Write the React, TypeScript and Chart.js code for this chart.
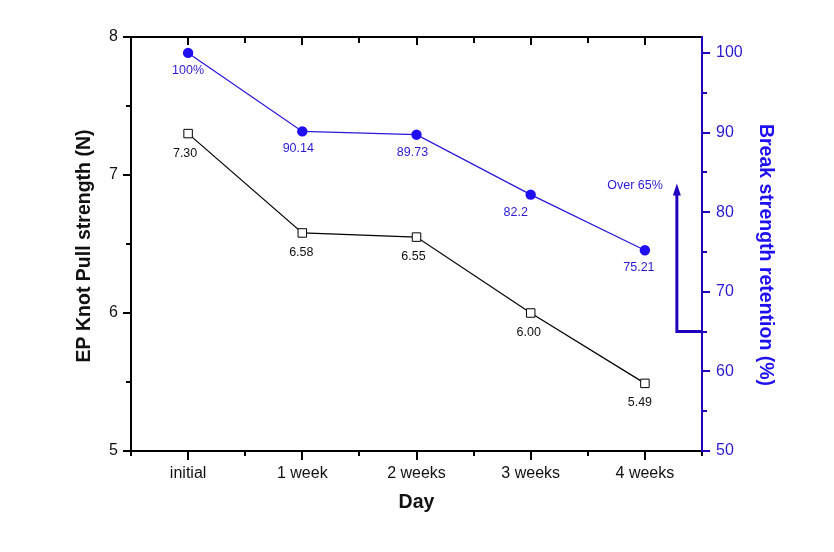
import React, { useEffect, useRef } from 'react';
import { Chart, registerables } from 'chart.js';

Chart.register(...registerables);

const categories = ['initial', '1 week', '2 weeks', '3 weeks', '4 weeks'];
const knotPull = [7.3, 6.58, 6.55, 6.0, 5.49];
const knotLabels = ['7.30', '6.58', '6.55', '6.00', '5.49'];
const retention = [100, 90.14, 89.73, 82.2, 75.21];
const retentionLabels = ['100%', '90.14', '89.73', '82.2', '75.21'];
const leftMin = 5;
const leftMax = 8;
const rightMin = 50;
const rightMax = 102;
const rightTickMax = 100;
const thresholdValue = 65;
const thresholdArrowTop = 83.6;
const thresholdText = 'Over 65%';
const xTitle = 'Day';
const leftTitle = 'EP Knot Pull strength (N)';
const rightTitle = 'Break strength retention (%)';

const FONT = '"Liberation Sans", Arial, Helvetica, sans-serif';
const BLACK = '#000000';
const BLUE_LINE = '#2a18d8';
const BLUE_POINT = '#1f0ff0';
const BLUE_TEXT = '#2b1ad0';
const BLUE_AXIS = '#2200c0';

// label offsets (style only)
const retentionDx = [0, -4, -4, -15, -6];
const knotDx = [-3, -1, -3, -2, -5];

const decorPlugin = {
  id: 'decor',
  afterDatasetsDraw(chart: any) {
    const { ctx, chartArea, scales } = chart;
    const { left, right, top, bottom } = chartArea;
    const xs = scales.x;
    const yl = scales.y;
    const yr = scales.y1;
    ctx.save();

    // data labels
    ctx.font = `12.5px ${FONT}`;
    ctx.textAlign = 'center';
    ctx.textBaseline = 'middle';
    ctx.fillStyle = BLUE_TEXT;
    retention.forEach((v, i) => {
      const px = xs.getPixelForValue(i) + retentionDx[i];
      const py = yr.getPixelForValue(v) + 17.5;
      ctx.fillText(retentionLabels[i], px, py);
    });
    ctx.fillStyle = '#111';
    knotPull.forEach((v, i) => {
      const px = xs.getPixelForValue(i) + knotDx[i];
      const py = yl.getPixelForValue(v) + 19.5;
      ctx.fillText(knotLabels[i], px, py);
    });

    // threshold arrow
    const ax = xs.getPixelForValue(4.28);
    const y65 = yr.getPixelForValue(thresholdValue);
    const yTop = yr.getPixelForValue(thresholdArrowTop);
    ctx.strokeStyle = BLUE_AXIS;
    ctx.fillStyle = BLUE_AXIS;
    ctx.lineWidth = 3;
    ctx.beginPath();
    ctx.moveTo(right, y65);
    ctx.lineTo(ax, y65);
    ctx.lineTo(ax, yTop + 10);
    ctx.stroke();
    ctx.beginPath();
    ctx.moveTo(ax, yTop);
    ctx.lineTo(ax - 4, yTop + 12);
    ctx.lineTo(ax + 4, yTop + 12);
    ctx.closePath();
    ctx.fill();
    ctx.font = `12.5px ${FONT}`;
    ctx.textAlign = 'right';
    ctx.fillStyle = BLUE_TEXT;
    ctx.fillText(thresholdText, ax - 14, yTop + 2.5);

    // axes
    ctx.lineCap = 'butt';
    ctx.strokeStyle = BLACK;
    ctx.lineWidth = 2;
    ctx.beginPath();
    ctx.moveTo(left, top);
    ctx.lineTo(right, top);
    ctx.moveTo(left, top - 1);
    ctx.lineTo(left, bottom + 1);
    ctx.moveTo(left - 1, bottom);
    ctx.lineTo(right + 1, bottom);
    ctx.stroke();

    // left ticks
    ctx.beginPath();
    for (let v = leftMin; v <= leftMax + 1e-9; v += 0.5) {
      const py = Math.round(yl.getPixelForValue(v));
      const major = Math.abs(v - Math.round(v)) < 1e-9;
      ctx.moveTo(left, py);
      ctx.lineTo(left - (major ? 8 : 5), py);
    }
    // bottom & top ticks
    for (let k = -0.5; k <= categories.length - 0.5 + 1e-9; k += 0.5) {
      const px = Math.round(xs.getPixelForValue(k));
      const major = Math.abs(k - Math.round(k)) < 1e-9;
      ctx.moveTo(px, bottom);
      ctx.lineTo(px, bottom + (major ? 9 : 5));
      ctx.moveTo(px, top);
      ctx.lineTo(px, top + (major ? 8 : 6));
    }
    ctx.stroke();

    // right axis
    ctx.strokeStyle = BLUE_AXIS;
    ctx.beginPath();
    ctx.moveTo(right, top - 1);
    ctx.lineTo(right, bottom + 1);
    for (let v = rightMin; v <= rightTickMax + 1e-9; v += 5) {
      const py = Math.round(yr.getPixelForValue(v));
      const major = v % 10 === 0;
      ctx.moveTo(right, py);
      ctx.lineTo(right + (major ? 8 : 5), py);
    }
    ctx.stroke();

    // axis titles
    ctx.font = `bold 19.5px ${FONT}`;
    ctx.textAlign = 'center';
    ctx.textBaseline = 'middle';
    ctx.fillStyle = '#111';
    ctx.fillText(xTitle, (left + right) / 2, 503);

    ctx.save();
    ctx.translate(85, 246);
    ctx.rotate(-Math.PI / 2);
    ctx.fillText(leftTitle, 0, 0);
    ctx.restore();

    ctx.save();
    ctx.translate(765, 255);
    ctx.rotate(Math.PI / 2);
    ctx.fillStyle = BLUE_POINT;
    ctx.fillText(rightTitle, 0, 0);
    ctx.restore();

    ctx.restore();
  },
};

export default function App() {
  const canvasRef = useRef<HTMLCanvasElement | null>(null);

  useEffect(() => {
    document.body.style.margin = '0';
    const canvas = canvasRef.current;
    if (!canvas) return;
    const chart = new Chart(canvas, {
      type: 'line',
      data: {
        labels: categories,
        datasets: [
          {
            label: 'EP Knot Pull strength',
            data: knotPull,
            yAxisID: 'y',
            borderColor: BLACK,
            borderWidth: 1.2,
            pointStyle: 'rect',
            pointRadius: 6,
            pointBorderWidth: 1,
            pointBackgroundColor: '#ffffff',
            pointBorderColor: BLACK,
            tension: 0,
          },
          {
            label: 'Break strength retention',
            data: retention,
            yAxisID: 'y1',
            borderColor: BLUE_LINE,
            borderWidth: 1.3,
            pointStyle: 'circle',
            pointRadius: 5.2,
            pointBorderWidth: 0,
            pointBackgroundColor: BLUE_POINT,
            pointBorderColor: BLUE_POINT,
            tension: 0,
          },
        ],
      },
      options: {
        responsive: false,
        animation: false,
        layout: { padding: { top: 37, left: 0, right: 0, bottom: 0 } },
        plugins: {
          legend: { display: false },
          tooltip: { enabled: false },
        },
        scales: {
          x: {
            type: 'category',
            offset: true,
            grid: { display: false, drawTicks: false },
            border: { display: false },
            ticks: {
              color: '#111',
              font: { family: FONT, size: 16 },
              padding: 13,
              maxRotation: 0,
              autoSkip: false,
            },
            afterFit: (s: any) => {
              s.height = 101;
            },
          },
          y: {
            type: 'linear',
            position: 'left',
            min: leftMin,
            max: leftMax,
            grid: { display: false, drawTicks: false },
            border: { display: false },
            ticks: {
              stepSize: 1,
              color: '#111',
              font: { family: FONT, size: 16 },
              padding: 13,
            },
            afterFit: (s: any) => {
              s.width = 131;
            },
          },
          y1: {
            type: 'linear',
            position: 'right',
            min: rightMin,
            max: rightMax,
            grid: { display: false, drawTicks: false },
            border: { display: false },
            ticks: {
              stepSize: 10,
              includeBounds: false,
              color: BLUE_TEXT,
              font: { family: FONT, size: 16 },
              padding: 14,
            },
            afterFit: (s: any) => {
              s.width = 132;
            },
          },
        },
      },
      plugins: [decorPlugin],
    } as any);
    return () => chart.destroy();
  }, []);

  return (
    <div style={{ position: 'absolute', left: 0, top: 0, width: 834, height: 552, background: '#fff' }}>
      <canvas ref={canvasRef} width={834} height={552} />
    </div>
  );
}
